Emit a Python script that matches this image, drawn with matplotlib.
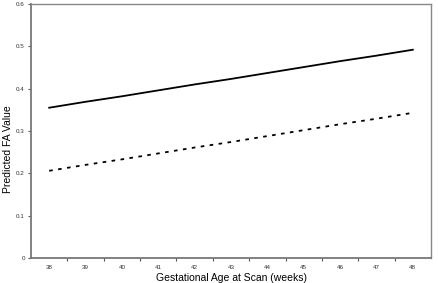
import numpy as np
import matplotlib.pyplot as plt

plt.rcParams['font.family'] = ['Liberation Sans', 'DejaVu Sans']

weeks = [38, 39, 40, 41, 42, 43, 44, 45, 46, 47, 48]
fa_solid = [0.355, 0.369, 0.382, 0.396, 0.410, 0.423, 0.437, 0.451, 0.465, 0.478, 0.492]
fa_dotted = [0.206, 0.220, 0.233, 0.247, 0.261, 0.274, 0.288, 0.302, 0.316, 0.329, 0.343]

fig = plt.figure(figsize=(4.38, 2.83), dpi=100)
ax = fig.add_axes([31/438, 25/283, 400/438, 254/283])

x = np.arange(len(weeks))
ax.plot(x, fa_solid, color='black', lw=1.3)
ax.plot(x, fa_dotted, color='black', lw=1.3, linestyle=(0, (2, 3)))

ax.set_xlim(-0.5, len(weeks) - 0.5)
ax.set_ylim(0, 0.6)
ax.set_xticks(x)
ax.set_xticklabels([str(w) for w in weeks], fontsize=4.5, color='#333333')
ax.tick_params(axis='x', which='major', length=0, pad=5)
ax.set_xticks(np.arange(0.5, len(weeks) - 1, 1), minor=True)
ax.tick_params(axis='x', which='minor', length=2.5, width=0.8, color='#555555', direction='out')
ax.set_yticks([0, 0.1, 0.2, 0.3, 0.4, 0.5, 0.6])
ax.set_yticklabels(['0', '0.1', '0.2', '0.3', '0.4', '0.5', '0.6'], fontsize=4.5, color='#333333')
ax.tick_params(axis='y', length=2.5, width=0.8, color='#555555', direction='out', pad=2)

for side in ['left', 'bottom']:
    ax.spines[side].set_color('#777777')
    ax.spines[side].set_linewidth(1.3)
for side in ['top', 'right']:
    ax.spines[side].set_color('#888888')
    ax.spines[side].set_linewidth(1.0)

ax.set_ylabel('Predicted FA Value', fontsize=7.5)
ax.yaxis.set_label_coords(-0.045, 0.43)
ax.set_xlabel('Gestational Age at Scan (weeks)', fontsize=7.5, labelpad=2)

fig.savefig('out.png', dpi=100)
